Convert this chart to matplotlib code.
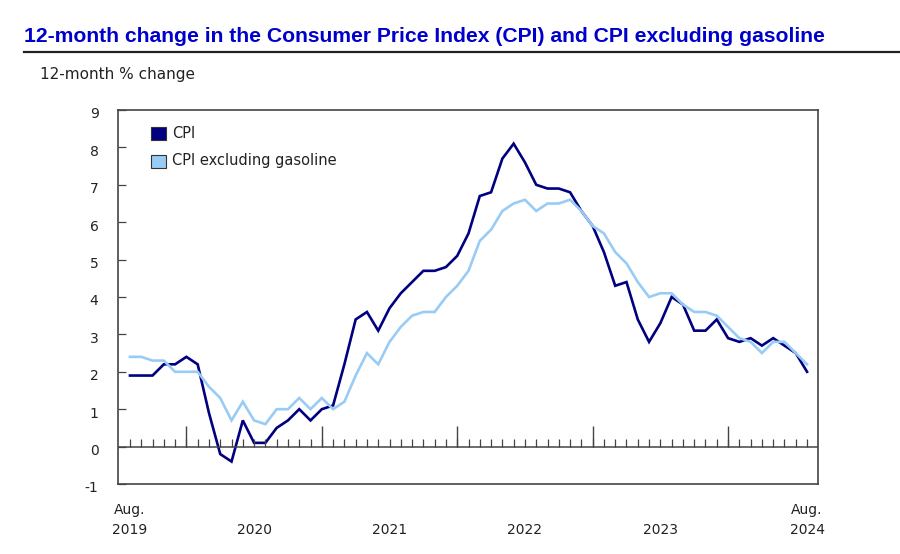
import matplotlib
matplotlib.use('Agg')
import matplotlib.pyplot as plt
import matplotlib.transforms as mtransforms
from matplotlib.patches import Rectangle

# monthly data, Aug 2019 .. Aug 2024
cpi = [1.9, 1.9, 1.9, 2.2, 2.2,
       2.4, 2.2, 0.9, -0.2, -0.4, 0.7, 0.1, 0.1, 0.5, 0.7, 1.0, 0.7,
       1.0, 1.1, 2.2, 3.4, 3.6, 3.1, 3.7, 4.1, 4.4, 4.7, 4.7, 4.8,
       5.1, 5.7, 6.7, 6.8, 7.7, 8.1, 7.6, 7.0, 6.9, 6.9, 6.8, 6.3,
       5.9, 5.2, 4.3, 4.4, 3.4, 2.8, 3.3, 4.0, 3.8, 3.1, 3.1, 3.4,
       2.9, 2.8, 2.9, 2.7, 2.9, 2.7, 2.5, 2.0]
cpi_ex_gas = [2.4, 2.4, 2.3, 2.3, 2.0,
              2.0, 2.0, 1.6, 1.3, 0.7, 1.2, 0.7, 0.6, 1.0, 1.0, 1.3, 1.0,
              1.3, 1.0, 1.2, 1.9, 2.5, 2.2, 2.8, 3.2, 3.5, 3.6, 3.6, 4.0,
              4.3, 4.7, 5.5, 5.8, 6.3, 6.5, 6.6, 6.3, 6.5, 6.5, 6.6, 6.3,
              5.9, 5.7, 5.2, 4.9, 4.4, 4.0, 4.1, 4.1, 3.8, 3.6, 3.6, 3.5,
              3.2, 2.9, 2.8, 2.5, 2.8, 2.8, 2.5, 2.2]
months = list(range(len(cpi)))
january_idx = [5, 17, 29, 41, 53]
year_labels = ['2020', '2021', '2022', '2023']
year_pos = [11, 23, 35, 47]
y_ticks = list(range(-1, 10))

dark = '#000080'
light = '#99CCF5'
grey = '#444444'
txt = '#222222'

fig = plt.figure(figsize=(9, 5.54), dpi=100)
ax = fig.add_axes([118/900, 1 - 484/554, 700/900, 374/554])

ax.plot(months, cpi, color=dark, lw=1.9, solid_joinstyle='miter')
ax.plot(months, cpi_ex_gas, color=light, lw=1.9, solid_joinstyle='miter')

ax.set_xlim(-1.06, 60.97)
ax.set_ylim(-1, 9)

# zero line with month ticks
ax.axhline(0, color=grey, lw=1.1)
ax.vlines(months, 0, 0.19, color=grey, lw=0.9)
ax.vlines(january_idx, 0, 0.56, color=grey, lw=1.0)

for s in ax.spines.values():
    s.set_color(grey)
    s.set_linewidth(1.2)

ax.set_yticks(y_ticks)
ax.set_yticklabels([str(v) for v in y_ticks])
ax.tick_params(axis='y', direction='in', length=6, width=0.9, color=grey,
               pad=14, labelsize=10, labelcolor=txt)
ax.set_xticks([])
offset = mtransforms.ScaledTranslation(0, -3/100, fig.dpi_scale_trans)
for lbl in ax.get_yticklabels():
    lbl.set_transform(lbl.get_transform() + offset)

# x labels
trans = ax.get_xaxis_transform()
y_top = -26/374
y_bot = -46/374
for p in [0, 60]:
    ax.text(p, y_top, 'Aug.', transform=trans, ha='center', va='center', fontsize=10, color=txt)
ax.text(0, y_bot, '2019', transform=trans, ha='center', va='center', fontsize=10, color=txt)
ax.text(60, y_bot, '2024', transform=trans, ha='center', va='center', fontsize=10, color=txt)
for lab, p in zip(year_labels, year_pos):
    ax.text(p, y_bot, lab, transform=trans, ha='center', va='center', fontsize=10, color=txt)

# legend drawn by hand
for i, (lab, col) in enumerate([('CPI', dark), ('CPI excluding gasoline', light)]):
    yc = 1 - (133 + 28*i)/554
    fig.patches.append(Rectangle((151/900, yc - 6.5/554), 15/900, 13/554,
                                 transform=fig.transFigure, facecolor=col,
                                 edgecolor='#333333', lw=0.8))
    fig.text(172/900, yc, lab, ha='left', va='center', fontsize=10.5, color=txt)

# title and underline
fig.text(24/900, 1 - 37/554, '12-month change in the Consumer Price Index (CPI) and CPI excluding gasoline',
         ha='left', va='center', fontsize=15.2, fontweight='bold', color='#0000CC',
         family='Liberation Sans')
fig.add_artist(plt.Line2D([24/900, 1], [1 - 52/554, 1 - 52/554], color='#222222', lw=1.6))
fig.text(40/900, 1 - 74/554, '12-month % change', ha='left', va='center', fontsize=11, color=txt)

fig.savefig('out.png', dpi=100)
